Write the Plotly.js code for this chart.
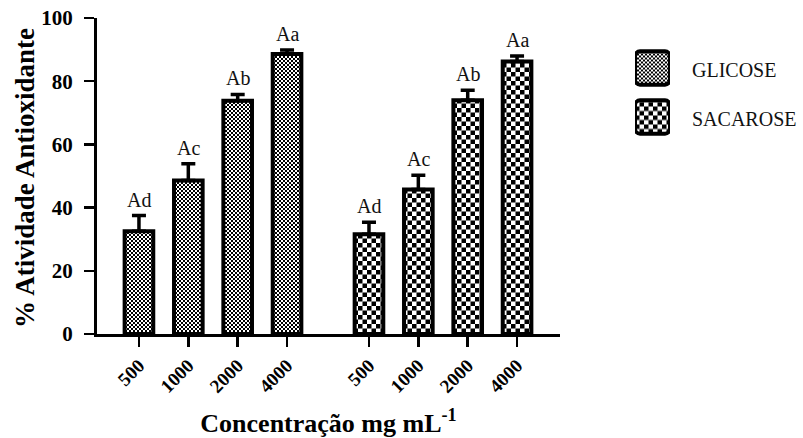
<!DOCTYPE html>
<html>
<head>
<meta charset="utf-8">
<script src="https://cdn.plot.ly/plotly-3.0.1.min.js"></script>
<style>
  html, body { margin: 0; padding: 0; background: #fff; }
  #chart { width: 803px; height: 438px; }
</style>
</head>
<body>
<div id="chart"></div>
<script>
// ---- data ----
var concentrations = ['500', '1000', '2000', '4000'];
var seriesNames = ['GLICOSE', 'SACAROSE'];
var glicose = [32.5, 48.6, 73.8, 88.6];
var glicoseErr = [5.0, 5.3, 2.0, 1.3];
var sacarose = [31.6, 45.7, 74.0, 86.2];
var sacaroseErr = [3.8, 4.5, 3.1, 1.8];
var glicoseLetters = ['Ad', 'Ac', 'Ab', 'Aa'];
var sacaroseLetters = ['Ad', 'Ac', 'Ab', 'Aa'];
var yTitle = '% Atividade Antioxidante';
var xTitle = 'Concentração mg mL<sup>-1</sup>';

// ---- layout helpers ----
var SERIF = 'Liberation Serif, Times New Roman, serif';
var GROUP_GAP = 0.66;
function positions(groupIndex) {
  return concentrations.map(function (c, i) {
    return groupIndex * (concentrations.length + GROUP_GAP) + i;
  });
}
var xG = positions(0), xS = positions(1);
var patternSizes = [4, 9];

function barTrace(x, y, err, gi) {
  return {
    type: 'bar', x: x, y: y, width: 0.58, name: seriesNames[gi],
    marker: {
      color: '#ffffff',
      line: { color: '#000', width: 4 },
      pattern: { shape: '.', size: patternSizes[gi], solidity: 0.5, fgcolor: '#000', bgcolor: '#fff', fillmode: 'replace' }
    },
    error_y: {
      type: 'data', symmetric: false, array: err,
      arrayminus: err.map(function () { return 0; }),
      color: '#000', thickness: 3.5, width: 7
    },
    showlegend: false, hoverinfo: 'skip', xaxis: 'x', yaxis: 'y'
  };
}

function legendTrace(gi) {
  return {
    type: 'bar', orientation: 'h', x: [1], y: [gi], base: 0, width: 0.68,
    name: seriesNames[gi],
    marker: {
      color: '#ffffff', cornerradius: 5,
      line: { color: '#000', width: 4 },
      pattern: { shape: '.', size: patternSizes[gi], solidity: 0.5, fgcolor: '#000', bgcolor: '#fff', fillmode: 'replace' }
    },
    showlegend: false, hoverinfo: 'skip', xaxis: 'x2', yaxis: 'y2'
  };
}

var data = [
  barTrace(xG, glicose, glicoseErr, 0),
  barTrace(xS, sacarose, sacaroseErr, 1),
  legendTrace(0),
  legendTrace(1)
];

var W = 803, H = 438;

var annotations = [];
function addLetters(x, y, err, letters) {
  letters.forEach(function (t, i) {
    annotations.push({
      xref: 'x', yref: 'y', x: x[i], y: y[i] + err[i], text: t,
      showarrow: false, yanchor: 'bottom', yshift: 3,
      font: { family: SERIF, size: 20, color: '#111' }
    });
  });
}
addLetters(xG, glicose, glicoseErr, glicoseLetters);
addLetters(xS, sacarose, sacaroseErr, sacaroseLetters);
seriesNames.forEach(function (n, gi) {
  annotations.push({
    xref: 'paper', yref: 'y2', x: 690 / W, y: gi, text: n,
    xanchor: 'left', yanchor: 'middle', yshift: -2, showarrow: false,
    font: { family: SERIF, size: 20, color: '#111' }
  });
});
// y-axis title
annotations.push({
  xref: 'paper', yref: 'paper', x: 25 / W, y: (H - 178) / H, text: yTitle,
  textangle: -90, xanchor: 'center', yanchor: 'middle', showarrow: false,
  font: { family: SERIF, size: 27, weight: 'bold', color: '#000' }
});

var tickvals = xG.concat(xS);
var ticktext = concentrations.concat(concentrations);

var layout = {
  width: W, height: H,
  margin: { l: 0, r: 0, t: 0, b: 0, pad: 0 },
  paper_bgcolor: '#fff', plot_bgcolor: 'rgba(0,0,0,0)',
  showlegend: false,
  bargap: 0,
  font: { family: SERIF, color: '#000' },
  xaxis: {
    domain: [97 / W, 560 / W], anchor: 'y',
    range: [-0.85, 8.53],
    tickmode: 'array', tickvals: tickvals, ticktext: ticktext,
    tickangle: -45,
    ticks: 'outside', ticklen: 10, tickwidth: 2.5, tickcolor: '#000',
    showline: true, linewidth: 3, linecolor: '#000',
    showgrid: false, zeroline: false,
    tickfont: { family: SERIF, size: 19, weight: 'bold', color: '#000' },
    title: { text: xTitle, standoff: 23, font: { family: SERIF, size: 26, weight: 'bold', color: '#000' } }
  },
  yaxis: {
    domain: [(H - 334) / H, (H - 18) / H], anchor: 'x',
    range: [0, 100], dtick: 20, tick0: 0,
    ticks: 'outside', ticklen: 10, tickwidth: 2.5, tickcolor: '#000',
    ticklabelstandoff: 7,
    showline: true, linewidth: 3, linecolor: '#000',
    showgrid: false, zeroline: false,
    tickfont: { family: SERIF, size: 21, weight: 'bold', color: '#000' }
  },
  xaxis2: {
    domain: [635 / W, 670 / W], anchor: 'y2', range: [0, 1], visible: false, fixedrange: true
  },
  yaxis2: {
    domain: [(H - 141.5) / H, (H - 43.5) / H], anchor: 'x2', range: [1.5, -0.5], visible: false, fixedrange: true
  },
  annotations: annotations
};

var gd = document.getElementById('chart');
Plotly.newPlot(gd, data, layout, { staticPlot: true, displayModeBar: false }).then(function () {
  // turn the library's pattern tiles into checkerboards
  var NS = 'http://www.w3.org/2000/svg';
  gd.querySelectorAll('pattern').forEach(function (p) {
    var w = parseFloat(p.getAttribute('width'));
    var h = w / 2;
    while (p.firstChild) p.removeChild(p.firstChild);
    function r(x, y, s, fill) {
      var e = document.createElementNS(NS, 'rect');
      e.setAttribute('x', x); e.setAttribute('y', y);
      e.setAttribute('width', s); e.setAttribute('height', s);
      e.setAttribute('fill', fill);
      p.appendChild(e);
    }
    r(0, 0, w, '#fff');
    r(0, 0, h, '#000');
    r(h, h, h, '#000');
  });
});
</script>
</body>
</html>
